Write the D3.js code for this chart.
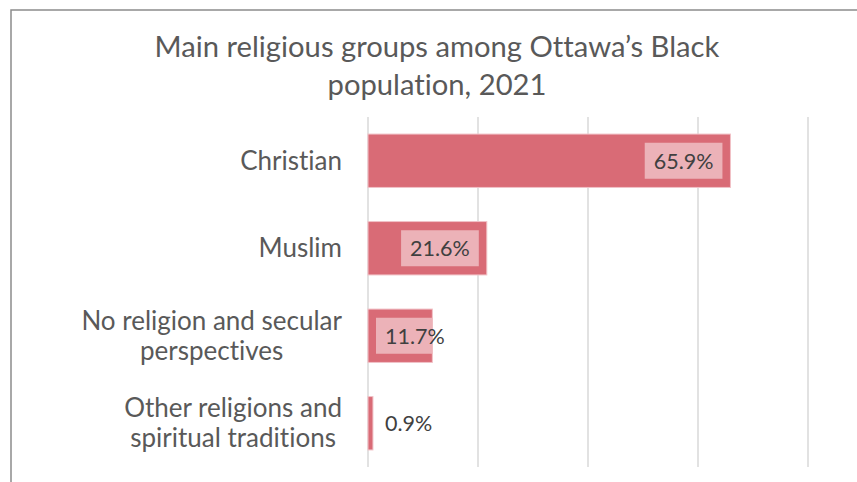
<!DOCTYPE html>
<html>
<head>
<meta charset="utf-8">
<script src="https://cdn.jsdelivr.net/npm/d3@7"></script>
<style>
  body { margin: 0; background: #fff; }
  svg { display: block; }
  text { font-variant-ligatures: none; }
</style>
</head>
<body>
<svg id="chart" width="857" height="482"></svg>
<script>
// Main religious groups among Ottawa's Black population, 2021 (share, %)
const categories = [
  "Christian",
  "Muslim",
  "No religion and secular perspectives",
  "Other religions and spiritual traditions"
];
const categoryLines = [
  ["Christian"],
  ["Muslim"],
  ["No religion and secular", "perspectives"],
  ["Other religions and", "spiritual traditions"]
];
const values = [65.9, 21.6, 11.7, 0.9];
const gridTicks = [0, 20, 40, 60, 80];
const titleLines = ["Main religious groups among Ottawa’s Black", "population, 2021"];

const FONT = "Lato, 'DejaVu Sans', sans-serif";
const svg = d3.select("#chart");

// chart frame (only the top and left edges fall inside the view)
svg.append("rect")
  .attr("x", 11).attr("y", 10)
  .attr("width", 900).attr("height", 500)
  .attr("fill", "#fff")
  .attr("stroke", "#8c8c8c").attr("stroke-width", 1.5);

const x = d3.scaleLinear().domain([0, 80]).range([368, 808]);
const y = d3.scaleBand().domain(categories).range([117, 467])
  .paddingInner(0.39).paddingOuter(0.195);

// vertical gridlines
svg.append("g").selectAll("line").data(gridTicks).join("line")
  .attr("x1", d => x(d)).attr("x2", d => x(d))
  .attr("y1", 117).attr("y2", 467)
  .attr("stroke", "#d9d9d9").attr("stroke-width", 1.5);

// title
svg.append("text")
  .attr("x", 437).attr("y", 57)
  .attr("text-anchor", "middle")
  .attr("font-family", FONT).attr("font-size", 29.2)
  .attr("fill", "#595959")
  .selectAll("tspan").data(titleLines).join("tspan")
  .attr("x", 437).attr("dy", (d, i) => i === 0 ? 0 : 38)
  .text(d => d);

// bars
const barFill = "#d96b76";
svg.append("g").selectAll("rect").data(values).join("rect")
  .attr("x", x(0))
  .attr("y", (d, i) => y(categories[i]))
  .attr("width", d => x(d) - x(0))
  .attr("height", y.bandwidth())
  .attr("fill", barFill)
  .attr("stroke", "#f1c2c7").attr("stroke-width", 1);

// category labels: multi-line blocks, centred within themselves, right-aligned to the axis
const labelRight = 342;
const lineH = 30;
categories.forEach((c, i) => {
  const lines = categoryLines[i];
  const g = svg.append("g");
  const t = g.append("text")
    .attr("font-family", FONT).attr("font-size", 26)
    .attr("fill", "#595959")
    .attr("text-anchor", "middle");
  const cy = y(c) + y.bandwidth() / 2;
  const first = cy + 9 - (lines.length - 1) * lineH / 2;
  const spans = t.selectAll("tspan").data(lines).join("tspan")
    .attr("dy", 0)
    .attr("y", (d, k) => first + k * lineH)
    .text(d => d);
  let maxW = 0;
  spans.each(function () { maxW = Math.max(maxW, this.getComputedTextLength()); });
  spans.attr("x", labelRight - maxW / 2);
});

// value labels with a light box, clipped to the bar they sit on
const defs = svg.append("defs");
const pad = 9;
const boxH = 36;
values.forEach((v, i) => {
  const c = categories[i];
  const cy = y(c) + y.bandwidth() / 2;
  const label = `${v.toFixed(1)}%`;
  const g = svg.append("g");
  const txt = g.append("text")
    .attr("font-family", FONT).attr("font-size", 21.5)
    .attr("fill", "#404040")
    .attr("text-anchor", "middle")
    .attr("y", cy + 8)
    .text(label);
  const w = txt.node().getComputedTextLength() + pad * 2;
  const left = Math.max(x(0) + 8, x(v) - 8 - w);
  txt.attr("x", left + w / 2);
  defs.append("clipPath").attr("id", `clip${i}`)
    .append("rect")
    .attr("x", x(0)).attr("y", y(c))
    .attr("width", x(v) - x(0)).attr("height", y.bandwidth());
  g.insert("rect", "text")
    .attr("clip-path", `url(#clip${i})`)
    .attr("x", left).attr("y", cy - boxH / 2)
    .attr("width", w).attr("height", boxH)
    .attr("fill", "#ecb2b8");
});
</script>
</body>
</html>
